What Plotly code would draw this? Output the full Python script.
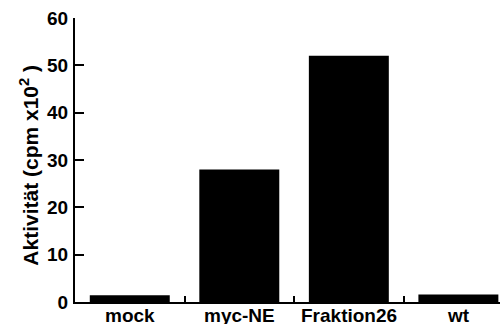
import plotly.graph_objects as go

categories = ["mock", "myc-NE", "Fraktion26", "wt"]
values = [1.4, 28, 52, 1.6]
y_ticks = [0, 10, 20, 30, 40, 50, 60]
y_title = "Aktivität (cpm x10<sup>2</sup> )"

fig = go.Figure(go.Bar(
    x=categories, y=values,
    marker=dict(color="black", line=dict(width=0)),
))

font = dict(family="Liberation Sans, Arial, Helvetica, sans-serif", size=19, color="black", weight="bold")

fig.update_layout(
    width=504, height=324,
    margin=dict(l=75, r=4, t=18, b=22, autoexpand=False),
    paper_bgcolor="white", plot_bgcolor="white",
    bargap=0.27,
    showlegend=False,
    font=font,
)
fig.update_xaxes(
    type="category", range=[-0.5, 3.38], automargin=False,
    showline=True, linecolor="black", linewidth=2,
    ticks="inside", tickson="boundaries", ticklen=6, tickwidth=1.5, tickcolor="black",
    showgrid=False, zeroline=False,
    showticklabels=False,
)
fig.update_yaxes(
    range=[0, 60], tickvals=y_ticks, automargin=False,
    showline=True, linecolor="black", linewidth=2,
    ticks="inside", ticklen=9, tickwidth=2, tickcolor="black",
    showgrid=False, zeroline=False,
    ticklabelstandoff=1,
    tickfont=dict(size=19),
)

# category labels just under the axis
for c in categories:
    fig.add_annotation(x=c, y=0, xref="x", yref="y", text=c, showarrow=False,
                       yanchor="top", yshift=-1, font=dict(size=19))

# y-axis title
fig.add_annotation(x=0, y=0.48, xref="paper", yref="paper", text=y_title,
                   showarrow=False, textangle=-90, xanchor="center", yanchor="middle",
                   xshift=-46, font=dict(size=21))

fig.write_html("out.html", config={"displayModeBar": False},
               post_script="document.body.style.margin='0';")
